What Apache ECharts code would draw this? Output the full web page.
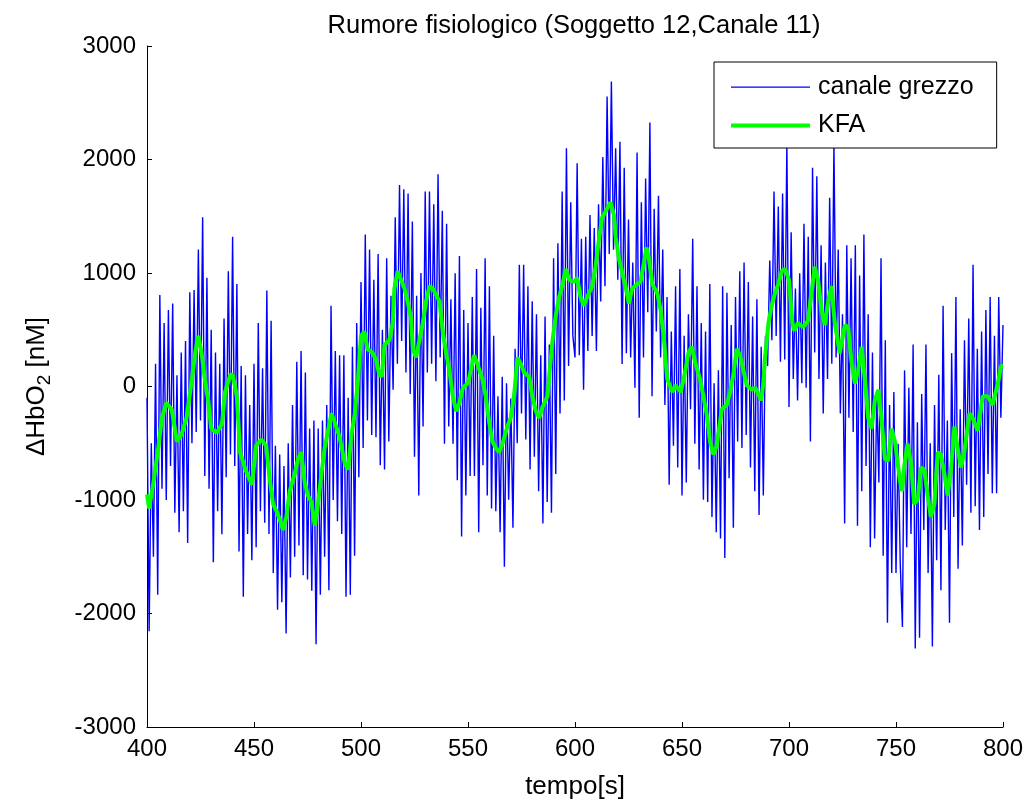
<!DOCTYPE html>
<html><head><meta charset="utf-8">
<script src="https://cdn.jsdelivr.net/npm/echarts@6/dist/echarts.min.js"></script>
<style>html,body{margin:0;padding:0;background:#fff}#c{width:1031px;height:805px}</style>
</head><body><div id="c"></div>
<script>
// ---- data ----
const rawStart = 400;   // first sample time [s]
const rawStep = 1;      // sample spacing [s]
const raw400 = [-100,-2157,-500,-1500,200,-1834,807,-900,560,-1000,
  674,-700,731,-1112,100,-1283,300,-1100,400,-1378,
  830,-500,850,-400,1206,-300,1491,-789,959,-900,
  500,-1549,300,-1100,200,-1302,600,-800,1016,-600,
  1320,-700,902,-1454,180,-1853,100,-1300,-162,-1530];
const raw450 = [200,-1416,560,-1100,161,-1200,845,-1300,579,-1644,
  -523,-1967,-600,-1900,-700,-2176,-500,-1682,-162,-1500,
  218,-1400,313,-1663,123,-1701,-371,-1800,-300,-2271,
  -371,-1834,-300,-1500,-162,-1796,712,-1000,313,-1188,
  275,-1300,275,-1853,-100,-1834,351,-1492,560,-800];
const raw500 = [921,-542,1339,-300,1206,-428,940,-447,1168,-694,
  500,-732,1130,-485,800,-29,1491,200,1776,400,
  1738,123,1700,-67,1453,-618,800,-960,1000,-352,
  1719,123,1719,200,1605,47,1871,256,1548,-504,
  1434,-352,769,-504,997,-827,1149,-1321,674,-960];
const raw550 = [560,-789,788,-789,1035,-1283,693,-694,1130,-960,
  883,-1074,446,-1100,-86,-1283,85,-1587,28,-998,
  -105,-1245,332,-500,1073,-238,1073,-466,883,-732,
  750,-618,636,-922,275,-1207,617,-1017,370,-1112,
  1130,-770,1263,-238,1719,-124,2099,180,1624,446];
const raw600 = [256,1966,275,1301,-29,1320,313,1510,446,1396,
  313,1605,750,2023,883,2555,1168,2688,1206,2099,
  940,2156,199,1928,294,1472,256,1092,-10,2061,
  -276,1624,256,1833,655,2327,-86,1567,484,1681,
  256,1206,-162,788,-865,484,-523,883,-713,1035];
const raw650 = [-960,446,-846,636,-200,1301,-504,883,-732,560,
  -998,484,-1017,902,-1150,28,-1283,142,-1340,883,
  -1511,826,-808,541,-1245,788,-485,1016,-542,1092,
  -428,921,-713,617,-922,769,-1131,351,-960,446,
  180,1111,408,1719,446,1586,218,1700,237,2137];
const raw700 = [-181,1358,66,864,-124,997,28,1434,-10,1320,
  -485,1928,300,1852,66,1244,-238,1092,66,1662,
  200,2137,256,1206,-238,636,-1207,1244,-276,1130,
  -400,1244,-1226,978,-922,1339,-700,636,-1416,300,
  -1340,-67,-846,1130,-1492,408,-2081,-162,-1644,-48];
const raw750 = [-1644,-504,-1568,-2119,142,-1416,-10,-1300,370,-2309,
  -314,-2214,-67,-1264,370,-1644,-500,-2290,-162,-1530,
  104,-1796,712,-1264,-300,-2081,294,-1150,788,-1606,
  -200,-1400,408,-865,598,-1112,1073,-1055,332,-1264,
  484,-1150,674,-770,788,-941,446,-941,788,-276,
  541];

const kfaTime = [400,401,403,405,407,409,411.5,414,416,418.5,421,422.5,424,425.5,427,428.6,430,432.5,435,436.5,439,440,442,443.5,446,449,
  451,453.4,455.7,457.3,458.9,460.4,462,463.5,465.1,466.7,469,470.6,472.1,473.7,475.2,476.8,478.4,479.9,481.5,483,484.6,486.2,487.7,490,492.4,494,495.5,497.1,498.6,
  500,501.6,503,505.5,507,508.6,509.7,511,513.3,514.8,515.6,517.2,518.7,520.3,521.8,523.4,524.2,525.7,527.3,528.9,530.4,532,533.5,535.1,536.7,538.2,539.8,541.3,542.9,544.5,546,547.6,550,
  552.8,554.4,556.7,558.3,559.9,561.4,563,564.5,566.1,568.4,570,571.6,573.1,574.7,576.2,578.6,580.1,581.7,583.3,584.8,587.2,588,589.5,591.1,592.6,594.2,595.7,597.3,599.6,
  601,602.6,604.1,605.7,608,609.6,611.1,612.7,615,616.6,618.2,619,620.5,622.1,623.6,625.2,626.7,629.1,630.6,632.2,633.4,634.5,636.1,638.4,640,641.6,642.3,643.1,645.5,647,649.4,651.2,
  653,654.5,656.1,658.4,660,661.5,663.1,664.7,666.2,668.6,670.9,672.5,674,675.6,677.1,678.7,680.3,682.6,684.2,685.7,687,688,688.8,690.4,691.9,693.5,695,696.6,698.2,700,701.6,
  702.5,704.2,706.6,708.9,710.5,712,713.6,715.2,716.7,718.3,719.8,721.4,723.7,726.1,727.6,729.2,730.8,732.3,733.9,735.4,737,738.6,740.1,741.7,743.2,744.8,746.4,747.9,749.5,751.8,
  752.8,753.9,755.4,757,758.5,760.1,761.7,763.2,764.8,766.3,767.9,769.5,771,772.6,774.1,775.7,777.3,778.8,780.4,781.9,784.3,785.8,788.2,790.5,792.9,795.2,797.6,799.1,800];
const kfaValue = [-950,-1074,-846,-580,-276,-143,-200,-485,-428,-276,66,294,446,294,66,-124,-371,-409,-333,-48,104,104,-86,-580,-732,-865,
  -523,-466,-523,-808,-1036,-1093,-1169,-1264,-1150,-922,-770,-637,-580,-846,-960,-1017,-1226,-1036,-770,-542,-390,-238,-314,-447,-675,-732,-428,-238,66,
  446,484,332,294,237,104,85,370,408,560,864,1016,940,864,750,598,332,256,408,560,750,883,864,807,750,484,294,142,-86,-219,-143,-10,28,
  275,199,66,-86,-314,-485,-542,-580,-504,-352,-276,-67,256,199,123,85,-86,-219,-276,-181,-86,104,408,636,788,902,1035,940,921,
  960,788,712,788,883,1054,1282,1491,1567,1624,1510,1320,1130,997,883,731,864,902,921,1092,1225,1130,902,826,674,408,237,66,-48,9,-48,104,
  294,351,218,66,-86,-238,-485,-599,-523,-200,-162,-48,104,332,275,142,9,-29,-10,-67,-124,28,256,560,712,826,902,1016,1035,940,560,
  490,560,522,579,826,1054,940,674,541,750,883,560,294,541,522,218,28,142,351,66,-276,-371,-124,-29,-276,-637,-656,-371,-485,-827,
  -922,-694,-504,-675,-1036,-998,-713,-732,-960,-1150,-1036,-580,-599,-770,-960,-732,-352,-542,-713,-580,-238,-276,-390,-86,-86,-162,28,180,180];

const seriesNames = ['canale grezzo', 'KFA'];
const titleText = 'Rumore fisiologico (Soggetto 12,Canale 11)';

// ---- build ----
const rawValues = [].concat(raw400, raw450, raw500, raw550, raw600, raw650, raw700, raw750);
const rawData = rawValues.map((v, i) => [rawStart + i * rawStep, v]);
const kfaData = kfaTime.map((t, i) => [t, kfaValue[i]]);

const FONT = '"Liberation Sans", Arial, sans-serif';
// legend icons: horizontal stroke inside a 79x14 box (tiny corner dots fix the box)
const thinIcon = 'path://M0,0h0.01v0.01h-0.01z M0,6h79v1.2h-79z M78.99,13.99h0.01v0.01h-0.01z';
const thickIcon = 'path://M0,0h0.01v0.01h-0.01z M0,5h79v4h-79z M78.99,13.99h0.01v0.01h-0.01z';

const chart = echarts.init(document.getElementById('c'), null, {renderer: 'canvas'});
chart.setOption({
  animation: false,
  backgroundColor: '#fff',
  title: {
    text: titleText, left: 569, top: 8, textAlign: 'center',
    textStyle: {fontFamily: FONT, fontSize: 25.5, fontWeight: 'normal', color: '#000'}
  },
  legend: {
    orient: 'vertical', left: 714, top: 62,
    itemWidth: 79, itemHeight: 14, itemGap: 13,
    symbolKeepAspect: false,
    padding: [13, 23, 10, 17],
    backgroundColor: '#fff', borderColor: '#000', borderWidth: 1, borderRadius: 0,
    itemStyle: {borderWidth: 0},
    textStyle: {fontFamily: FONT, fontSize: 25, color: '#000', padding: [0, 0, 0, 3]},
    data: [{name: seriesNames[0], icon: thinIcon}, {name: seriesNames[1], icon: thickIcon}]
  },
  grid: {left: 147, right: 28, top: 46, bottom: 73},
  xAxis: {
    type: 'value', min: 400, max: 800, interval: 50,
    axisLine: {onZero: false, lineStyle: {color: '#000', width: 1}},
    axisTick: {inside: true, length: 5, lineStyle: {color: '#000'}},
    axisLabel: {color: '#000', fontSize: 24, fontFamily: FONT, margin: 10},
    splitLine: {show: false},
    name: 'tempo[s]', nameLocation: 'middle', nameGap: 47,
    nameTextStyle: {color: '#000', fontSize: 26, fontFamily: FONT}
  },
  yAxis: {
    type: 'value', min: -3000, max: 3000, interval: 1000,
    axisLine: {show: true, onZero: false, lineStyle: {color: '#000', width: 1}},
    axisTick: {show: true, inside: true, length: 5, lineStyle: {color: '#000'}},
    axisLabel: {color: '#000', fontSize: 24, fontFamily: FONT, margin: 11,
      formatter: v => String(v)},
    splitLine: {show: false},
    name: '{a|ΔHbO}{s|2}{a| [nM]}', nameLocation: 'middle', nameGap: 93, nameRotate: 90,
    nameTextStyle: {
      color: '#000', fontFamily: FONT, fontSize: 26,
      rich: {
        a: {fontSize: 26, fontFamily: FONT, color: '#000'},
        s: {fontSize: 19, fontFamily: FONT, color: '#000', padding: [15, 0, 0, 0]}
      }
    }
  },
  series: [
    {type: 'line', name: seriesNames[0], data: rawData, symbol: 'none', showSymbol: false,
     lineStyle: {color: '#0000ff', width: 1.4}, itemStyle: {color: '#0000ff'}, z: 2},
    {type: 'line', name: seriesNames[1], data: kfaData, symbol: 'none', showSymbol: false,
     lineStyle: {color: '#00ff00', width: 4}, itemStyle: {color: '#00ff00'}, z: 3}
  ]
});
</script></body></html>
